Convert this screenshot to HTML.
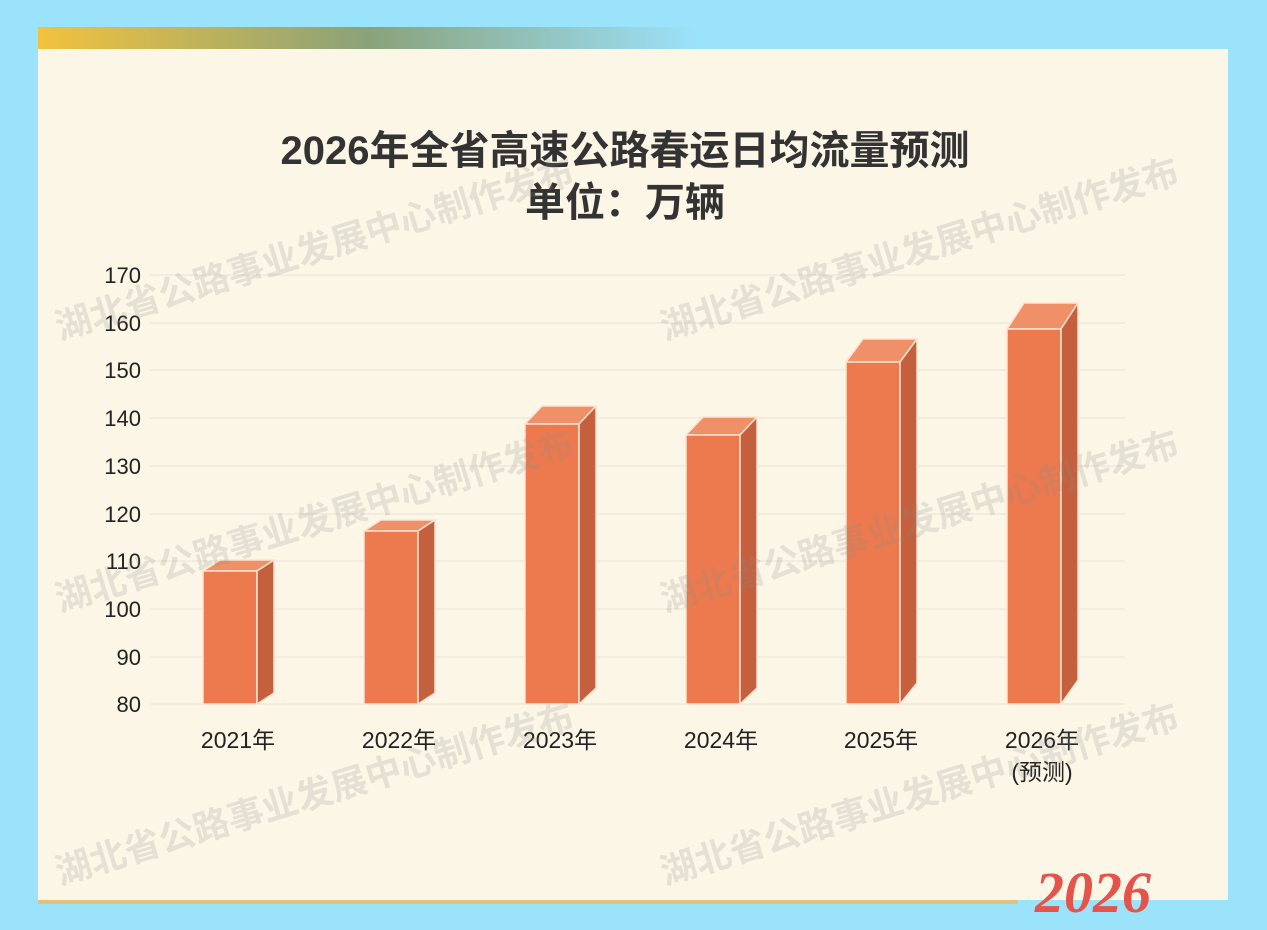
<!DOCTYPE html>
<html><head><meta charset="utf-8"><style>
body{margin:0;width:1267px;height:930px;background:#9be2fb;overflow:hidden;position:relative;font-family:"Liberation Sans","Noto Sans CJK SC",sans-serif}
</style></head><body>
<svg width="1267" height="930" style="position:absolute;left:0;top:0" font-family="Liberation Sans, Noto Sans CJK SC, sans-serif">
<defs>
<linearGradient id="g" x1="0" x2="1"><stop offset="0" stop-color="#f2c23e"/><stop offset="0.5" stop-color="#8aa27a"/><stop offset="1" stop-color="#9be2fb"/></linearGradient>
</defs>
<rect x="38" y="27" width="660" height="22" fill="url(#g)"/>
<rect x="38" y="49" width="1190" height="851" fill="#fcf6e6"/>
<rect x="38" y="900" width="980" height="4" fill="#e2c27a"/>
<text x="625" y="164" font-size="40" font-weight="bold" fill="#333" text-anchor="middle">2026年全省高速公路春运日均流量预测</text>
<text x="625" y="216" font-size="40" font-weight="bold" fill="#333" text-anchor="middle">单位：万辆</text>
<g stroke="#f1ecdd" stroke-width="2">
<line x1="150" x2="1125" y1="275" y2="275"/><line x1="150" x2="1125" y1="323" y2="323"/><line x1="150" x2="1125" y1="370" y2="370"/><line x1="150" x2="1125" y1="418" y2="418"/><line x1="150" x2="1125" y1="466" y2="466"/><line x1="150" x2="1125" y1="514" y2="514"/><line x1="150" x2="1125" y1="561" y2="561"/><line x1="150" x2="1125" y1="609" y2="609"/><line x1="150" x2="1125" y1="657" y2="657"/><line x1="150" x2="1125" y1="704" y2="704"/>
</g>
<g font-size="22" fill="#222" text-anchor="end">
<text x="141" y="283">170</text><text x="141" y="331">160</text><text x="141" y="378">150</text><text x="141" y="426">140</text><text x="141" y="474">130</text><text x="141" y="522">120</text><text x="141" y="569">110</text><text x="141" y="617">100</text><text x="141" y="665">90</text><text x="141" y="712">80</text>
</g>
<g font-size="23" fill="#222" text-anchor="middle">
<text x="238" y="748">2021年</text><text x="399" y="748">2022年</text><text x="560" y="748">2023年</text><text x="721" y="748">2024年</text><text x="881" y="748">2025年</text><text x="1042" y="748">2026年</text><text x="1042" y="780">(预测)</text>
</g>
<g stroke="#fbe3d0" stroke-width="1.5">
<polygon points="203,571 257,571 274,560 220,560" fill="#ef9068"/><rect x="203" y="571" width="54" height="133" fill="#ec7a4e"/><polygon points="257,571 274,560 274,693 257,704" fill="#c4603d"/>
<polygon points="364,531 418,531 435,520 381,520" fill="#ef9068"/><rect x="364" y="531" width="54" height="173" fill="#ec7a4e"/><polygon points="418,531 435,520 435,693 418,704" fill="#c4603d"/>
<polygon points="525,424 579,424 596,406 542,406" fill="#ef9068"/><rect x="525" y="424" width="54" height="280" fill="#ec7a4e"/><polygon points="579,424 596,406 596,688 579,704" fill="#c4603d"/>
<polygon points="686,435 740,435 757,417 703,417" fill="#ef9068"/><rect x="686" y="435" width="54" height="269" fill="#ec7a4e"/><polygon points="740,435 757,417 757,688 740,704" fill="#c4603d"/>
<polygon points="846,362 900,362 917,339 863,339" fill="#ef9068"/><rect x="846" y="362" width="54" height="342" fill="#ec7a4e"/><polygon points="900,362 917,339 917,683 900,704" fill="#c4603d"/>
<polygon points="1007,329 1061,329 1078,303 1024,303" fill="#ef9068"/><rect x="1007" y="329" width="54" height="375" fill="#ec7a4e"/><polygon points="1061,329 1078,303 1078,680 1061,704" fill="#c4603d"/>
</g>
<g font-size="36" font-weight="bold" fill="#8a8a8a" fill-opacity="0.2">
<text transform="translate(60,340) rotate(-17)">湖北省公路事业发展中心制作发布</text>
<text transform="translate(665,340) rotate(-17)">湖北省公路事业发展中心制作发布</text>
<text transform="translate(60,612) rotate(-17)">湖北省公路事业发展中心制作发布</text>
<text transform="translate(665,612) rotate(-17)">湖北省公路事业发展中心制作发布</text>
<text transform="translate(60,885) rotate(-17)">湖北省公路事业发展中心制作发布</text>
<text transform="translate(665,885) rotate(-17)">湖北省公路事业发展中心制作发布</text>
</g>
<text x="1035" y="912" font-size="58" font-style="italic" font-weight="bold" fill="#e5534a" font-family="Liberation Serif, serif">2026</text>
</svg>
</body></html>
